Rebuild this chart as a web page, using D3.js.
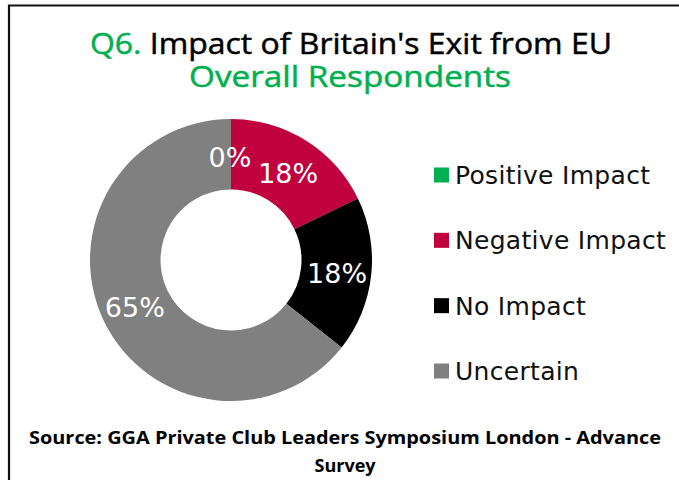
<!DOCTYPE html>
<html>
<head>
<meta charset="utf-8">
<script src="https://cdn.jsdelivr.net/npm/d3@7"></script>
<style>
  html, body { margin: 0; padding: 0; background: #fff; }
  svg { display: block; }
</style>
</head>
<body>
<svg id="chart" width="679" height="480"></svg>
<script>
// Survey answers (percent of respondents)
const categories = ["Positive Impact", "Negative Impact", "No Impact", "Uncertain"];
const values = [0, 18, 18, 65];
const colors = ["#00B050", "#C0003F", "#000000", "#808080"];

const svg = d3.select("#chart");
const W = 679, H = 480;

// frame (open on the right and bottom edges)
svg.append("path")
  .attr("d", `M9,${H + 5} V5.5 H${W + 5}`)
  .attr("fill", "none")
  .attr("stroke", "#111")
  .attr("stroke-width", 2.2);

// title
const title = svg.append("text")
  .attr("x", 351).attr("y", 54)
  .attr("text-anchor", "middle")
  .attr("font-family", "'Open Sans', sans-serif")
  .attr("font-size", 30)
  .attr("stroke-width", 0.5)
  .attr("textLength", 522)
  .attr("lengthAdjust", "spacingAndGlyphs");
title.append("tspan").attr("fill", "#00B050").attr("stroke", "#00B050").text("Q6. ");
title.append("tspan").attr("fill", "#000").attr("stroke", "#000").text("Impact of Britain's Exit from EU");

svg.append("text")
  .attr("x", 350).attr("y", 87)
  .attr("text-anchor", "middle")
  .attr("font-family", "'Open Sans', sans-serif")
  .attr("font-size", 29)
  .attr("fill", "#00B050")
  .attr("stroke", "#00B050")
  .attr("stroke-width", 0.5)
  .attr("textLength", 322)
  .attr("lengthAdjust", "spacingAndGlyphs")
  .text("Overall Respondents");

// donut
const cx = 231, cy = 260, rOuter = 141, rInner = 70.5;
const data = categories.map((c, i) => ({ name: c, value: values[i], color: colors[i] }));
const pie = d3.pie().value(d => d.value).sort(null);
const arc = d3.arc().innerRadius(rInner).outerRadius(rOuter);
const arcs = pie(data);

const g = svg.append("g").attr("transform", `translate(${cx},${cy})`);
g.selectAll("path.slice")
  .data(arcs)
  .join("path")
  .attr("class", "slice")
  .attr("d", arc)
  .attr("fill", d => d.data.color);

// value labels at the middle of the ring
const rMid = (rInner + rOuter) / 2;
const labelArc = d3.arc().innerRadius(rMid).outerRadius(rMid);
const nudges = [[-1, 3], [1, 3], [1, 2], [-1, 1]];
g.selectAll("text.val")
  .data(arcs)
  .join("text")
  .attr("class", "val")
  .attr("transform", (d, i) => {
    const [x, y] = labelArc.centroid(d);
    return `translate(${x + nudges[i][0]},${y + nudges[i][1]})`;
  })
  .attr("text-anchor", "middle")
  .attr("dy", "0.36em")
  .attr("font-family", "'DejaVu Sans', sans-serif")
  .attr("font-size", 27)
  .attr("fill", "#fff")
  .text(d => d3.format(".0f")(d.data.value) + "%");

// legend
const legend = svg.append("g");
const legY = d3.scalePoint().domain(categories).range([175, 371]);
const rows = legend.selectAll("g.row")
  .data(data)
  .join("g")
  .attr("class", "row")
  .attr("transform", d => `translate(434,${legY(d.name)})`);
rows.append("rect")
  .attr("x", 0).attr("y", -7.5)
  .attr("width", 15).attr("height", 15)
  .attr("fill", d => d.color);
rows.append("text")
  .attr("x", 21).attr("y", 0)
  .attr("dy", "0.36em")
  .attr("font-family", "'DejaVu Sans', sans-serif")
  .attr("font-size", 25)
  .attr("letter-spacing", 0.3)
  .attr("fill", "#111")
  .text(d => d.name);

// source note
const src = svg.append("g")
  .attr("font-family", "'Open Sans', sans-serif")
  .attr("font-weight", "bold")
  .attr("font-size", 18)
  .attr("fill", "#000")
  .attr("text-anchor", "middle");
src.append("text").attr("x", 345).attr("y", 444)
  .attr("textLength", 632).attr("lengthAdjust", "spacingAndGlyphs")
  .text("Source: GGA Private Club Leaders Symposium London - Advance");
src.append("text").attr("x", 345).attr("y", 472).text("Survey");
</script>
</body>
</html>
